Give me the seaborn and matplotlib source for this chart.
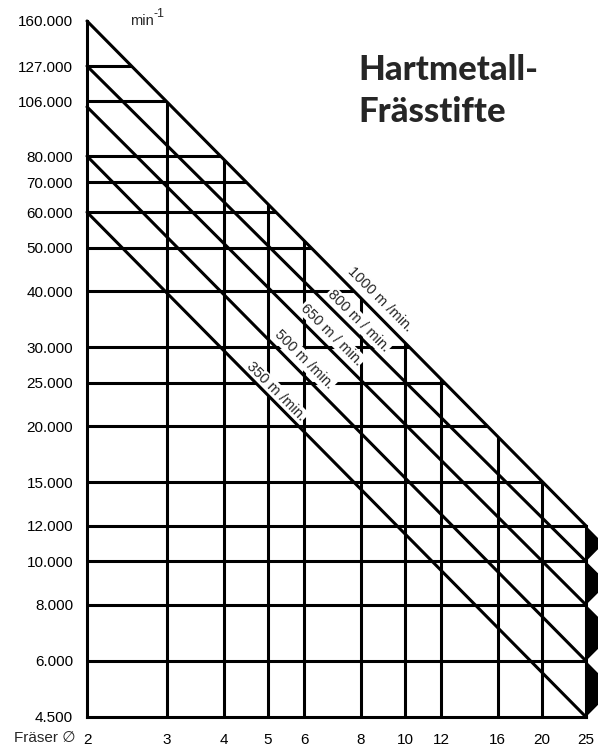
import numpy as np
import pandas as pd
import matplotlib
matplotlib.use('Agg')
import matplotlib.pyplot as plt
from matplotlib.patches import Polygon
from matplotlib.ticker import NullLocator
import seaborn as sns

# Nomogram values
diameters = [2, 3, 4, 5, 6, 8, 10, 12, 16, 20, 25]
rpm_ticks = [160000, 127000, 106000, 80000, 70000, 60000, 50000, 40000,
             30000, 25000, 20000, 15000, 12000, 10000, 8000, 6000, 4500]
speeds = [1000, 800, 650, 500, 350]
speed_labels = ['1000 m /min.', '800 m / min.', '650 m / min.', '500 m /min.', '350 m /min.']
rpm_at_d2 = [160000, 127000, 103000, 80000, 60000]
rpm_at_d25 = [12000, 10000, 8000, 6000, 4500]

# where the speed labels sit along their lines (diameter) and offset above (pt)
label_d = [8.8, 7.9, 6.9, 6.0, 5.2]
label_dy = [12.5, 10.5, 12.0, 11.5, 8.5]

sns.set_style('white')
plt.rcParams['font.family'] = ['Liberation Sans', 'DejaVu Sans']

W, H = 598, 752
fig = plt.figure(figsize=(W / 100, H / 100), dpi=100)
ax = fig.add_axes([87 / W, 1 - 717 / H, 499 / W, 696 / H])
ax.set_xscale('log')
ax.set_yscale('log')
ax.set_xlim(diameters[0], diameters[-1])
ax.set_ylim(rpm_ticks[-1], rpm_ticks[0])

lw = 2.2

# speed lines
rows = []
for s, n0, n1 in zip(speeds, rpm_at_d2, rpm_at_d25):
    rows.append({'speed': s, 'd': diameters[0], 'n': n0})
    rows.append({'speed': s, 'd': diameters[-1], 'n': n1})
df = pd.DataFrame(rows)
sns.lineplot(data=df, x='d', y='n', hue='speed', palette={s: 'black' for s in speeds},
             estimator=None, legend=False, lw=lw, clip_on=False, zorder=4, ax=ax)

# grid, cut off by the fastest speed line
clip = Polygon([(diameters[0], rpm_at_d2[0]), (diameters[-1], rpm_at_d25[0]),
                (diameters[-1], rpm_ticks[-1]), (diameters[0], rpm_ticks[-1])],
               closed=True, transform=ax.transData)
hl = ax.hlines(rpm_ticks[1:-1], diameters[0], diameters[-1], colors='black', lw=lw, zorder=1)
vl = ax.vlines(diameters[1:-1], rpm_ticks[-1], rpm_ticks[0], colors='black', lw=lw, zorder=1)
hl.set_clip_path(clip)
vl.set_clip_path(clip)

# frame
ax.plot([diameters[0]] * 2, [rpm_ticks[-1], rpm_ticks[0]], color='black', lw=lw,
        clip_on=False, solid_capstyle='projecting', zorder=4)
ax.plot([diameters[0], diameters[-1]], [rpm_ticks[-1]] * 2, color='black', lw=lw,
        clip_on=False, solid_capstyle='projecting', zorder=4)
ax.plot([diameters[-1]] * 2, [rpm_ticks[-1], rpm_at_d25[0]], color='black', lw=lw,
        clip_on=False, solid_capstyle='projecting', zorder=4)

# black arrow heads on the right edge
ld = np.log10(diameters[-1]) - np.log10(diameters[0])
for i in range(len(rpm_at_d25) - 1):
    up, low = rpm_at_d25[i], rpm_at_d25[i + 1]
    slope = (np.log10(rpm_at_d2[i]) - np.log10(up)) / ld
    apex_d = 10 ** (np.log10(diameters[-1]) + (np.log10(up) - np.log10(low)) / (2 * slope))
    apex_n = np.sqrt(up * low)
    ax.fill([diameters[-1], apex_d, diameters[-1]], [up, apex_n, low],
            color='black', lw=0, clip_on=False, zorder=4)

# speed labels
for lab, s, n0, n1, d, dy in zip(speed_labels, speeds, rpm_at_d2, rpm_at_d25, label_d, label_dy):
    t = (np.log10(d) - np.log10(diameters[0])) / ld
    n = 10 ** (np.log10(n0) + t * (np.log10(n1) - np.log10(n0)))
    ax.annotate(lab, xy=(d, n), xytext=(0, dy), textcoords='offset points',
                rotation=-45, ha='center', va='center', rotation_mode='anchor',
                fontsize=10.5, zorder=3,
                bbox=dict(facecolor='white', edgecolor='none', pad=0.8))

# ticks
ax.set_xticks(diameters, labels=[str(d) for d in diameters])
ax.set_yticks(rpm_ticks, labels=[f'{v:,}'.replace(',', '.') for v in rpm_ticks])
ax.xaxis.set_minor_locator(NullLocator())
ax.yaxis.set_minor_locator(NullLocator())
ax.tick_params(axis='both', length=0, labelsize=11, colors='black')
ax.tick_params(axis='x', pad=11.5)
ax.tick_params(axis='y', pad=10)
ax.set_xlabel('')
ax.set_ylabel('')
for sp in ax.spines.values():
    sp.set_visible(False)

fig.text(76 / W, 1 - 738.5 / H, 'Fräser \u2205', fontsize=11, ha='right', va='center')
fig.text(130 / W, 1 - 25 / H, 'min', fontsize=10.5, ha='left', va='baseline')
fig.text(153 / W, 1 - 17 / H, '-1', fontsize=9, ha='left', va='baseline')

fig.text(358 / W, 1 - 80 / H, 'Hartmetall-', fontsize=25, fontweight='black',
         family='Lato', ha='left', va='baseline')
fig.text(358 / W, 1 - 122 / H, 'Frässtifte', fontsize=25, fontweight='black',
         family='Lato', ha='left', va='baseline')

fig.savefig('out.png', dpi=100)
